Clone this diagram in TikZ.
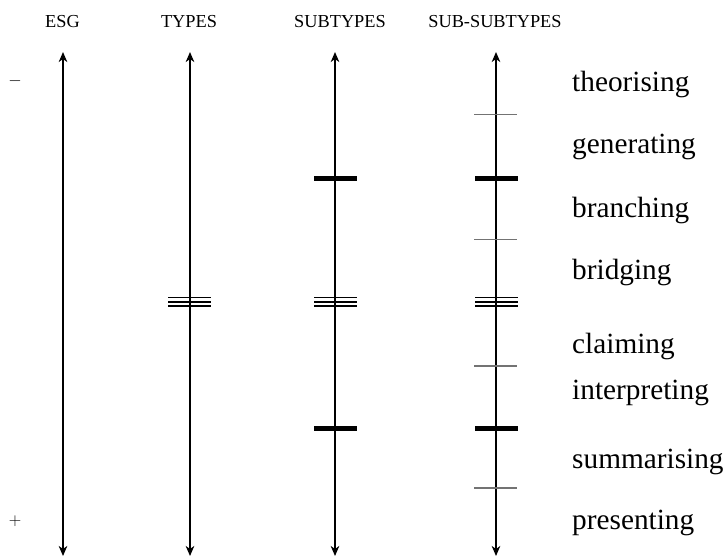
\documentclass[tikz,border=0pt]{standalone}
\usepackage{fontspec}
\setmainfont{Liberation Serif}
\usetikzlibrary{arrows.meta}

\begin{document}
\begin{tikzpicture}[x=1pt,y=-1pt,
	eixo/.style={line width=1.5pt,{Stealth[length=10pt,width=8.5pt,inset=3pt]}-{Stealth[length=10pt,width=8.5pt,inset=3pt]}},
	fino/.style={line width=1.4pt,black!55},
	grosso/.style={line width=4.5pt},
	triplo/.style={line width=1.6pt},
	titulo/.style={font=\fontsize{18.3}{20}\selectfont},
	rotulo/.style={font=\fontsize{29.3}{32}\selectfont,anchor=west,inner sep=0pt,text height=20pt,text depth=6pt}]
	\useasboundingbox (0,0) rectangle (728,558);
	%Config
	\node[titulo] (esg) at (62.5,22) {ESG};
	\node[titulo] (types) at (189,22) {TYPES};
	\node[titulo] (subtypes) at (340,22) {SUBTYPES};
	\node[titulo] (subsub) at (495,22) {SUB-SUBTYPES};
	\node[titulo] (menos) at (15,81) {$-$};
	\node[titulo] (mais) at (15,521) {$+$};
	
	%Eixos
	\coordinate (esgtop) at (63,52);     \coordinate (esgbot) at (63,556);
	\coordinate (typtop) at (190,52);    \coordinate (typbot) at (190,556);
	\coordinate (subtop) at (335,52);    \coordinate (subbot) at (335,556);
	\coordinate (sstop) at (496,52);     \coordinate (ssbot) at (496,556);
	\draw[eixo] (esgtop) -- (esgbot);
	\draw[eixo] (typtop) -- (typbot);
	\draw[eixo] (subtop) -- (subbot);
	\draw[eixo] (sstop) -- (ssbot);
	
	%Types
	\foreach \y in {297.5,301.8,306} \draw[triplo] (168,\y) -- (211,\y);
	
	%Subtypes
	\draw[grosso] (314,178.3) -- (357,178.3);
	\foreach \y in {297.5,301.8,306} \draw[triplo] (314,\y) -- (357,\y);
	\draw[grosso] (314,428.5) -- (357,428.5);
	
	%Sub-subtypes
	\draw[fino] (474,114.7) -- (517,114.7);
	\draw[grosso] (475,178.3) -- (518,178.3);
	\draw[fino] (474,239.5) -- (517,239.5);
	\foreach \y in {297.5,301.8,306} \draw[triplo] (475,\y) -- (518,\y);
	\draw[fino] (474,366) -- (517,366);
	\draw[grosso] (475,428.5) -- (518,428.5);
	\draw[fino] (474,488) -- (517,488);
	
	%Rotulos
	\node[rotulo] (theor) at (572,84) {theorising};
	\node[rotulo] (gener) at (572,146) {generating};
	\node[rotulo] (branch) at (572,210) {branching};
	\node[rotulo] (bridg) at (572,272) {bridging};
	\node[rotulo] (claim) at (572,346) {claiming};
	\node[rotulo] (interp) at (572,392) {interpreting};
	\node[rotulo] (summ) at (572,461) {summarising};
	\node[rotulo] (pres) at (572,522) {presenting};
\end{tikzpicture}
\end{document}
